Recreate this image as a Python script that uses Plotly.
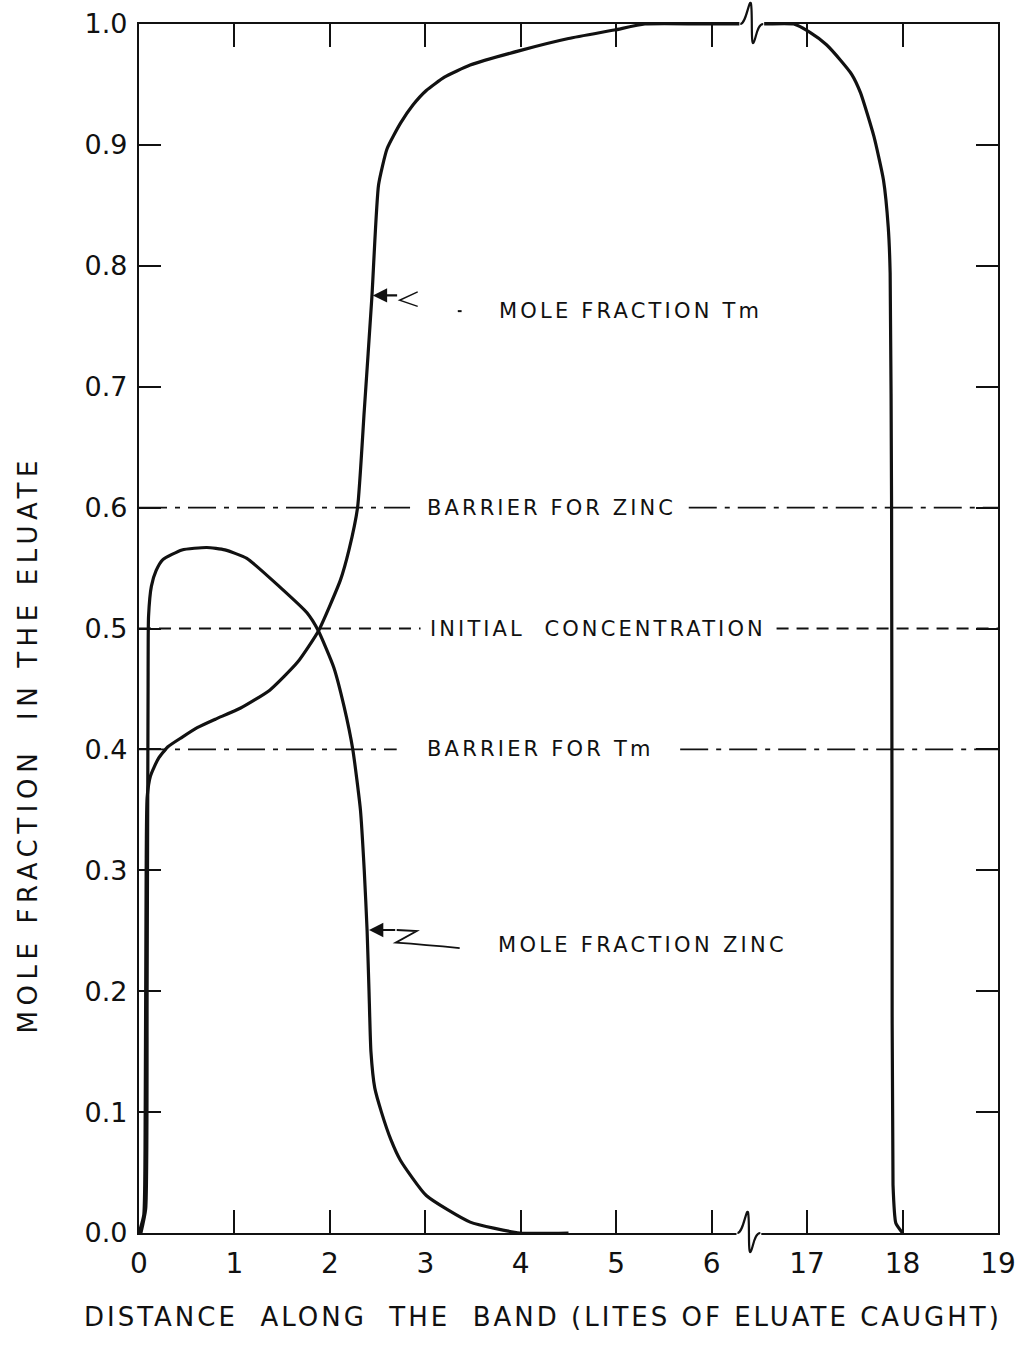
import plotly.graph_objects as go

# ---------------- data ----------------
# distance along the band, litres of eluate caught (axis is broken between ~6.45 and ~16.45)
TM_LITRES = [0.0, 0.05, 0.065, 0.075, 0.085, 0.12, 0.2, 0.3, 0.45, 0.61, 0.8, 1.06, 1.37,
             1.66, 1.88, 2.11, 2.2, 2.29, 2.36, 2.44, 2.51, 2.6, 2.74, 2.87, 3.01, 3.2,
             3.47, 3.99, 4.5, 4.98, 5.3, 6.0, 16.5, 16.86, 17.03, 17.2, 17.35, 17.47, 17.56,
             17.7, 17.8, 17.85, 17.87, 17.885, 17.89, 17.9, 17.93, 18.0]
TM_FRACTION = [0.0, 0.015, 0.1, 0.3, 0.36, 0.378, 0.392, 0.402, 0.41, 0.418, 0.425, 0.434,
               0.449, 0.472, 0.498, 0.54, 0.565, 0.60, 0.68, 0.774, 0.867, 0.897, 0.918,
               0.933, 0.945, 0.956, 0.966, 0.978, 0.988, 0.995, 1.0, 1.0, 1.0, 1.0, 0.993,
               0.983, 0.970, 0.958, 0.943, 0.907, 0.871, 0.832, 0.794, 0.6, 0.3, 0.04, 0.008,
               0.0]

ZN_LITRES = [0.02, 0.07, 0.085, 0.095, 0.1, 0.13, 0.18, 0.25, 0.45, 0.71, 0.9, 1.13, 1.48,
             1.76, 1.88, 2.04, 2.15, 2.24, 2.32, 2.36, 2.39, 2.41, 2.43, 2.47, 2.54, 2.64,
             2.74, 3.01, 3.47, 3.99, 4.5]
ZN_FRACTION = [0.0, 0.02, 0.2, 0.45, 0.51, 0.535, 0.548, 0.557, 0.565, 0.567, 0.565, 0.558,
               0.534, 0.513, 0.498, 0.468, 0.435, 0.40, 0.35, 0.30, 0.25, 0.20, 0.15, 0.12,
               0.10, 0.077, 0.06, 0.031, 0.009, 0.0, 0.0]

BARRIER_ZINC = 0.6
INITIAL_CONCENTRATION = 0.5
BARRIER_TM = 0.4

X_TICK_LITRES = [0, 1, 2, 3, 4, 5, 6, 17, 18, 19]
Y_TICKS = [0.0, 0.1, 0.2, 0.3, 0.4, 0.5, 0.6, 0.7, 0.8, 0.9, 1.0]

BREAK_AT = 6.45       # axis position of the break
BREAK_SKIP = 10.0     # litres removed by the break


def to_axis(v):
    return v if v < BREAK_AT else v - BREAK_SKIP


FONT = "DejaVu Sans"
BLACK = "#111111"

fig = go.Figure()

curve_line = dict(color=BLACK, width=3.2, shape="spline", smoothing=0.5)
fig.add_trace(go.Scatter(x=[to_axis(v) for v in TM_LITRES], y=TM_FRACTION, mode="lines",
                         line=curve_line, hoverinfo="skip", showlegend=False))
fig.add_trace(go.Scatter(x=[to_axis(v) for v in ZN_LITRES], y=ZN_FRACTION, mode="lines",
                         line=curve_line, hoverinfo="skip", showlegend=False))

# reference levels, interrupted where their labels sit
X_END = to_axis(19)
levels = [
    (BARRIER_ZINC, 2.84, 5.76, "28px,8px,5px,8px"),
    (INITIAL_CONCENTRATION, 2.95, 6.68, "12px,8px"),
    (BARRIER_TM, 2.70, 5.67, "28px,8px,5px,8px"),
]
for val, g0, g1, dash in levels:
    fig.add_trace(go.Scatter(x=[0, g0, None, g1, X_END], y=[val, val, None, val, val],
                             mode="lines", line=dict(color=BLACK, width=1.8, dash=dash),
                             hoverinfo="skip", showlegend=False))

LBL = dict(family=FONT, size=21, color=BLACK)


def spaced(t, ls):
    return f'<span style="letter-spacing:{ls}px">{t}</span>'


labels = [
    ("MOLE FRACTION Tm", 3.75, 0.7626, 3.2),
    ("BARRIER FOR ZINC", 3.0, BARRIER_ZINC, 3.1),
    ("INITIAL&nbsp;&nbsp;CONCENTRATION", 3.03, INITIAL_CONCENTRATION, 3.1),
    ("BARRIER FOR Tm", 3.0, BARRIER_TM, 3.2),
    ("MOLE FRACTION ZINC", 3.74, 0.238, 3.3),
]
for t, x, y, ls in labels:
    fig.add_annotation(x=x, y=y, xref="x", yref="y", text=spaced(t, ls), showarrow=False,
                       xanchor="left", yanchor="middle", font=LBL)

# pointer for Tm curve
fig.add_annotation(x=2.45, y=0.7755, ax=2.72, ay=0.7755, xref="x", yref="y", axref="x", ayref="y",
                   text="", showarrow=True, arrowhead=2, arrowsize=1.3, arrowwidth=2.2,
                   arrowcolor=BLACK)
fig.add_shape(type="path", xref="x", yref="y", path="M 2.92,0.7785 L 2.73,0.7715 L 2.92,0.7665",
              line=dict(color=BLACK, width=1.4))
fig.add_shape(type="line", xref="x", yref="y", x0=3.34, x1=3.38, y0=0.7625, y1=0.7625,
              line=dict(color=BLACK, width=2))
# pointer for zinc curve
fig.add_annotation(x=2.41, y=0.2506, ax=2.70, ay=0.2506, xref="x", yref="y", axref="x", ayref="y",
                   text="", showarrow=True, arrowhead=2, arrowsize=1.3, arrowwidth=2.2,
                   arrowcolor=BLACK)
fig.add_shape(type="path", xref="x", yref="y",
              path="M 2.70,0.2506 L 2.91,0.2498 L 2.69,0.2402 Q 3.0,0.2385 3.36,0.2357",
              line=dict(color=BLACK, width=1.8))

# axis break marks (cover the frame, then draw the squiggle)
py = 1 / 1209.0
for base, x0 in [(0.0, 6.27), (1.0, 6.30)]:
    fig.add_shape(type="line", xref="x", yref="paper", x0=x0 - 0.01, x1=x0 + 0.25,
                  y0=base, y1=base, line=dict(color="white", width=7), layer="above")
    p = (f"M {x0},{base} C {x0+0.06},{base} {x0+0.09},{base+24*py} {x0+0.11},{base+21*py} "
         f"C {x0+0.13},{base+16*py} {x0+0.11},{base-20*py} {x0+0.135},{base-19*py} "
         f"C {x0+0.16},{base-18*py} {x0+0.17},{base} {x0+0.24},{base}")
    fig.add_shape(type="path", xref="x", yref="paper", path=p, layer="above",
                  line=dict(color=BLACK, width=2.2))

# axis titles
fig.add_annotation(xref="paper", yref="paper", x=0, y=0.404, xshift=-111, textangle=-90,
                   text=spaced("MOLE FRACTION&nbsp;&nbsp;IN THE ELUATE", 5.6), showarrow=False,
                   xanchor="center", yanchor="middle",
                   font=dict(family=FONT, size=26, color=BLACK))
fig.add_annotation(xref="paper", yref="paper", x=0.47, y=0, yshift=-84,
                   text=spaced("DISTANCE&nbsp;&nbsp;ALONG&nbsp;&nbsp;THE&nbsp;&nbsp;BAND (LITES OF ELUATE CAUGHT)", 3.0),
                   showarrow=False, xanchor="center", yanchor="middle",
                   font=dict(family=FONT, size=26, color=BLACK))

fig.update_xaxes(range=[0, X_END], tickvals=[to_axis(v) for v in X_TICK_LITRES],
                 ticktext=[str(v) for v in X_TICK_LITRES], ticks="inside", ticklen=23,
                 tickwidth=2, tickcolor=BLACK, showline=True, linewidth=2.2, linecolor=BLACK,
                 mirror="ticks", showgrid=False, zeroline=False, automargin=False,
                 tickfont=dict(family=FONT, size=28, color=BLACK), ticklabelstandoff=4)
fig.update_yaxes(range=[0, 1], tickvals=Y_TICKS, ticktext=[f"{v:.1f}" for v in Y_TICKS],
                 ticks="inside", ticklen=22, tickwidth=2, tickcolor=BLACK, showline=True,
                 linewidth=2.2, linecolor=BLACK, mirror="ticks", showgrid=False,
                 zeroline=False, automargin=False,
                 tickfont=dict(family=FONT, size=27, color=BLACK), ticklabelstandoff=4)

fig.update_layout(width=1016, height=1345, margin=dict(l=139, r=18, t=24, b=112),
                  plot_bgcolor="white", paper_bgcolor="white", showlegend=False)

fig.write_html("out.html")
